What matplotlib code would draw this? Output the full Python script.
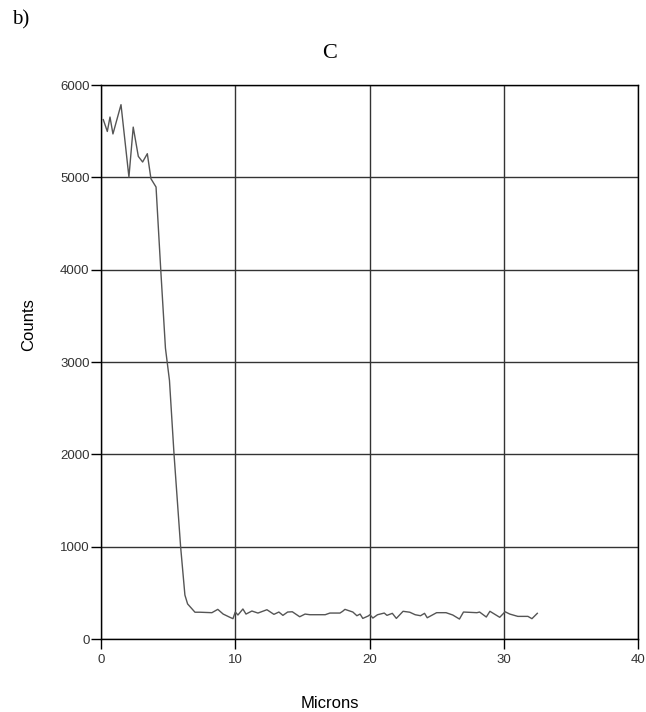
import matplotlib
matplotlib.use("Agg")
import matplotlib.pyplot as plt

microns = [0.17, 0.47, 0.67, 0.89, 1.49, 2.08, 2.40, 2.78, 3.10, 3.45, 3.72, 4.10,
           4.45, 4.80, 5.10, 5.44, 5.93, 6.25, 6.45, 7.00, 7.37, 8.26, 8.70, 9.10,
           9.60, 9.83, 10.00, 10.20, 10.57, 10.80, 11.24, 11.69, 12.36, 12.88, 13.25,
           13.55, 13.90, 14.25, 14.80, 15.20, 15.56, 16.70, 17.05, 17.80, 18.00, 18.17,
           18.76, 19.06, 19.30, 19.50, 19.90, 20.03, 20.25, 20.60, 21.10, 21.30, 21.70,
           22.00, 22.50, 23.00, 23.40, 23.80, 24.10, 24.30, 25.00, 25.70, 26.20, 26.70,
           27.00, 28.00, 28.20, 28.70, 28.97, 29.70, 30.10, 30.45, 31.05, 31.80, 32.10,
           32.50]
counts = [5625, 5497, 5653, 5470, 5787, 5003, 5544, 5227, 5166, 5256, 4985, 4895,
          4000, 3150, 2800, 2000, 1000, 476, 380, 290, 290, 285, 321, 270,
          235, 220, 292, 260, 325, 270, 303, 281, 317, 267, 292,
          256, 292, 295, 241, 270, 263, 263, 281, 281, 300, 321,
          292, 252, 270, 223, 249, 263, 227, 263, 281, 256, 278,
          223, 300, 290, 263, 252, 278, 230, 285, 285, 260, 216,
          292, 285, 292, 238, 300, 235, 295, 270, 245, 245, 220,
          278]

x_ticks = [0, 10, 20, 30, 40]
y_ticks = [0, 1000, 2000, 3000, 4000, 5000, 6000]

W, H = 646, 712
fig = plt.figure(figsize=(W / 100, H / 100), dpi=100)
ax = fig.add_axes([101 / W, 1 - 639 / H, (638 - 101) / W, (639 - 85) / H])

ax.plot(microns, counts, color="#555555", linewidth=1.0)
ax.set_xlim(0, 40)
ax.set_ylim(0, 6000)
ax.set_xticks(x_ticks)
ax.set_yticks(y_ticks)
ax.set_xticklabels([str(v) for v in x_ticks])
ax.set_yticklabels([str(v) for v in y_ticks])
ax.grid(True, color="#333333", linewidth=1.0)
ax.set_axisbelow(True)
for s in ax.spines.values():
    s.set_color("black")
    s.set_linewidth(1.0)
ax.tick_params(direction="out", length=7.2, width=1.0, colors="black",
               labelsize=9.5, labelcolor="#333333")
ax.tick_params(axis="x", pad=3.6)
ax.tick_params(axis="y", pad=1.0)
for lab in ax.get_xticklabels() + ax.get_yticklabels():
    lab.set_family("Liberation Sans")

def px(x, y):
    return x / W, 1 - y / H

fig.text(*px(330, 703), "Microns", fontsize=12, family="Liberation Sans",
         ha="center", va="center")
fig.text(*px(29, 325), "Counts", fontsize=12, family="Liberation Sans",
         ha="center", va="center", rotation=90)
fig.text(*px(330, 53), "C", fontsize=16, family="Liberation Serif",
         ha="center", va="center")
fig.text(*px(21, 20), "b)", fontsize=15, family="Liberation Serif",
         ha="center", va="center")

fig.savefig("out.png", dpi=100)
